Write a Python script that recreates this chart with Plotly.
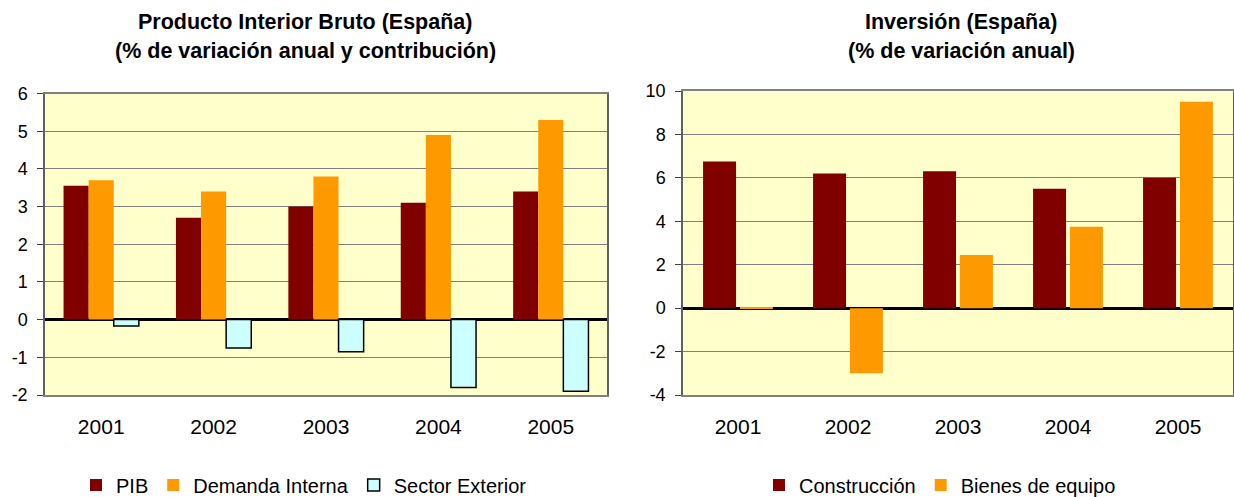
import plotly.graph_objects as go

years = ["2001", "2002", "2003", "2004", "2005"]
pib = [3.55, 2.7, 3.0, 3.1, 3.4]
demanda_interna = [3.7, 3.4, 3.8, 4.9, 5.3]
sector_exterior = [-0.17, -0.75, -0.85, -1.8, -1.9]
construccion = [6.75, 6.2, 6.3, 5.5, 6.0]
bienes_equipo = [0.05, -3.0, 2.45, 3.75, 9.5]

left_ticks = [-2, -1, 0, 1, 2, 3, 4, 5, 6]
left_ticktext = ["-2", "-1", "0", "1", "2", "3", "4", "5", "6"]
right_ticks = [-4, -2, 0, 2, 4, 6, 8, 10]
right_ticktext = ["-4", "-2", "0", "2", "4", "6", "8", "10"]

W, H = 1234, 497
FONT = "Liberation Sans, Arial, sans-serif"
C_RED = "#800000"
C_ORANGE = "#FF9900"
C_CYAN = "#CCFFFF"

fig = go.Figure()
fig.add_trace(go.Bar(x=years, y=pib, name="PIB", marker=dict(color=C_RED, line=dict(width=0)),
                     xaxis="x", yaxis="y", legend="legend"))
fig.add_trace(go.Bar(x=years, y=demanda_interna, name="Demanda Interna",
                     marker=dict(color=C_ORANGE, line=dict(width=0)),
                     xaxis="x", yaxis="y", legend="legend"))
fig.add_trace(go.Bar(x=years, y=sector_exterior, name="Sector Exterior",
                     marker=dict(color=C_CYAN, line=dict(width=1.5, color="black")),
                     xaxis="x", yaxis="y", legend="legend"))
fig.add_trace(go.Bar(x=years, y=construccion, name="Construcción",
                     marker=dict(color=C_RED, line=dict(width=0)), width=0.3,
                     xaxis="x2", yaxis="y2", legend="legend2"))
fig.add_trace(go.Bar(x=years, y=bienes_equipo, name="Bienes de equipo",
                     marker=dict(color=C_ORANGE, line=dict(width=0)), width=0.3,
                     xaxis="x2", yaxis="y2", legend="legend2"))

xfont = dict(family=FONT, size=21, color="black")
yfont = dict(family=FONT, size=18, color="black")

xcommon = dict(showline=True, linecolor="#808080", linewidth=1.5, mirror=True,
               showgrid=False, ticks="", ticklabelstandoff=12, tickfont=xfont,
               automargin=False)
ycommon = dict(showline=True, linecolor="#606060", linewidth=1.5, mirror=True,
               showgrid=True, gridcolor="#808080", gridwidth=1,
               zeroline=True, zerolinecolor="black", zerolinewidth=3,
               ticks="outside", ticklen=6, tickcolor="#404040", tickfont=yfont,
               ticklabelstandoff=6, automargin=False)

fig.update_layout(
    width=W, height=H,
    margin=dict(l=0, r=0, t=0, b=0, autoexpand=False),
    paper_bgcolor="white",
    plot_bgcolor="#FFFFCC",
    barmode="group",
    bargap=0.33, bargroupgap=0,
    font=dict(family=FONT, size=20, color="black"),
    xaxis=dict(domain=[45 / W, 607 / W], anchor="y", **xcommon),
    yaxis=dict(domain=[1 - 395 / H, 1 - 93.5 / H], anchor="x", range=[-2, 6],
               tickvals=left_ticks, ticktext=left_ticktext, **ycommon),
    xaxis2=dict(domain=[683 / W, 1233 / W], anchor="y2", **xcommon),
    yaxis2=dict(domain=[1 - 395 / H, 1 - 91 / H], anchor="x2", range=[-4, 10],
                tickvals=right_ticks, ticktext=right_ticktext, **ycommon),
    legend=dict(orientation="h", x=304 / W, y=1 - 485 / H, xanchor="center", yanchor="middle",
                font=dict(family=FONT, size=20), bgcolor="rgba(0,0,0,0)",
                itemwidth=30, tracegroupgap=0),
    legend2=dict(orientation="h", x=940 / W, y=1 - 485 / H, xanchor="center", yanchor="middle",
                 font=dict(family=FONT, size=20), bgcolor="rgba(0,0,0,0)",
                 itemwidth=30, tracegroupgap=0),
)

title_font = dict(family=FONT, size=21.5, color="black")
titles = [
    ("<b>Producto Interior Bruto (España)</b>", 305, 22),
    ("<b>(% de variación anual y contribución)</b>", 305, 51),
    ("<b>Inversión (España)</b>", 961, 22),
    ("<b>(% de variación anual)</b>", 961, 51),
]
for txt, xc, yc in titles:
    fig.add_annotation(text=txt, xref="paper", yref="paper", x=xc / W, y=1 - yc / H,
                       showarrow=False, font=title_font, xanchor="center", yanchor="middle")

fig.write_html(
    "out.html",
    config={"displayModeBar": False},
    post_script="document.body.style.margin='0';document.body.style.overflow='hidden';",
)
